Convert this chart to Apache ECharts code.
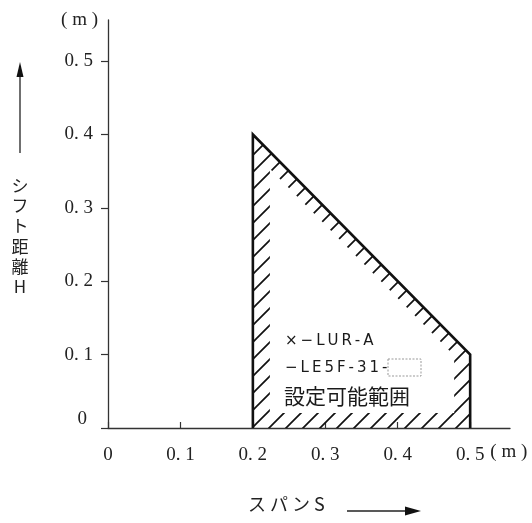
<!DOCTYPE html>
<html><head><meta charset="utf-8">
<script src="https://cdn.jsdelivr.net/npm/echarts@6/dist/echarts.min.js"></script>
<style>html,body{margin:0;padding:0;background:#fff}#c{width:532px;height:523px}</style>
</head><body><div id="c"></div>
<script>
// ---- data ----
const spanS = [0.2, 0.2, 0.5, 0.5];          // x of region vertices (m)
const shiftH = [0, 0.4, 0.1, 0];             // y of region vertices (m)
const xTicks = [0, 0.1, 0.2, 0.3, 0.4, 0.5];
const yTicks = [0, 0.1, 0.2, 0.3, 0.4, 0.5];
const xTickLabels = ['0', '0. 1', '0. 2', '0. 3', '0. 4', '0. 5'];
const yTickLabels = ['0', '0. 1', '0. 2', '0. 3', '0. 4', '0. 5'];
const unitLabel = '( m )';
const yTitle = 'シフト距離H';
const xTitle = 'スパンS';
const regionLines = ['×−LUR-A', '−LE5F-31-', '設定可能範囲'];

const SERIF = '"Liberation Serif", "DejaVu Serif", serif';
const JP = '"Noto Sans CJK JP", "Noto Sans", sans-serif';

function hatchPattern() {
  const s = 17;
  const c = document.createElement('canvas');
  c.width = s; c.height = s;
  const g = c.getContext('2d');
  g.strokeStyle = '#111';
  g.lineWidth = 1.7;
  g.lineCap = 'square';
  g.beginPath();
  g.moveTo(-3, s + 3); g.lineTo(s + 3, -3);
  g.moveTo(-3, 3); g.lineTo(3, -3);
  g.moveTo(s - 3, s + 3); g.lineTo(s + 3, s - 3);
  g.stroke();
  return c;
}
const pat = hatchPattern();

function lab(ticks, labels) {
  return function (v) {
    const i = ticks.findIndex(t => Math.abs(t - v) < 1e-9);
    return i < 0 ? '' : labels[i];
  };
}
const spaced = s => s.split('').join('\u2009');
const unitRich = { u: { fontFamily: SERIF, fontSize: 19, color: '#222' } };

const chart = echarts.init(document.getElementById('c'), null, { renderer: 'canvas' });
chart.setOption({
  animation: false,
  backgroundColor: '#fff',
  grid: { left: 108, right: 22, top: 20, bottom: 95, containLabel: false, outerBoundsMode: 'none' },
  xAxis: {
    type: 'value', min: 0, max: 0.555, interval: 0.1,
    axisLine: { show: true, onZero: false, lineStyle: { color: '#333', width: 1.3 } },
    axisTick: { show: true, inside: true, length: 6, customValues: xTicks, lineStyle: { color: '#333', width: 1.2 } },
    axisLabel: { show: true, customValues: xTicks, formatter: lab(xTicks, xTickLabels), margin: 18,
      color: '#222', fontFamily: SERIF, fontSize: 19 },
    splitLine: { show: false },
    name: '{u|' + unitLabel + '}', nameLocation: 'end', nameGap: -8,
    nameTextStyle: { color: '#222', fontFamily: SERIF, fontSize: 19, align: 'center', verticalAlign: 'top',
      padding: [15, 0, 0, 0], rich: unitRich }
  },
  yAxis: {
    type: 'value', min: 0, max: 0.556, interval: 0.1,
    axisLine: { show: true, onZero: false, lineStyle: { color: '#333', width: 1.3 } },
    axisTick: { show: true, inside: false, length: 7, customValues: yTicks, lineStyle: { color: '#333', width: 1.2 } },
    axisLabel: { show: true, customValues: yTicks, margin: 15, color: '#222', fontFamily: SERIF, fontSize: 19,
      formatter: function (v) {
        const t = lab(yTicks, yTickLabels)(v);
        return Math.abs(v) < 1e-9 ? '{z|' + t + '}' : t;
      },
      rich: { z: { fontFamily: SERIF, fontSize: 19, color: '#222', padding: [0, 6, 18, 0] } }
    },
    splitLine: { show: false },
    name: '{u|' + unitLabel + '}', nameLocation: 'end', nameGap: 0,
    nameTextStyle: { color: '#222', fontFamily: SERIF, fontSize: 19, align: 'right', verticalAlign: 'middle',
      padding: [0, 10, 0, 0], rich: unitRich }
  },
  series: [{
    type: 'custom',
    coordinateSystem: 'cartesian2d',
    silent: true,
    z: 2,
    data: spanS.map((s, i) => [s, shiftH[i]]),
    renderItem: function (params, api) {
      if (params.dataIndex !== 0) return null;
      const P = spanS.map((s, i) => api.coord([s, shiftH[i]]));
      const d = [17, 12, 16, 15];
      const n = P.length, L = [];
      for (let i = 0; i < n; i++) {
        const a = P[i], b = P[(i + 1) % n];
        const dx = b[0] - a[0], dy = b[1] - a[1];
        const len = Math.hypot(dx, dy);
        const nx = -dy / len, ny = dx / len;
        L.push({ p: [a[0] + nx * d[i], a[1] + ny * d[i]], v: [dx, dy] });
      }
      const inner = [];
      for (let i = 0; i < n; i++) {
        const A = L[(i - 1 + n) % n], B = L[i];
        const cr = A.v[0] * B.v[1] - A.v[1] * B.v[0];
        const wx = B.p[0] - A.p[0], wy = B.p[1] - A.p[1];
        const t = (wx * B.v[1] - wy * B.v[0]) / cr;
        inner.push([A.p[0] + A.v[0] * t, A.p[1] + A.v[1] * t]);
      }
      return {
        type: 'group',
        children: [
          { type: 'polygon', shape: { points: P }, style: { fill: { image: pat, repeat: 'repeat' }, stroke: null } },
          { type: 'polygon', shape: { points: inner }, style: { fill: '#fff', stroke: null } },
          { type: 'polyline', shape: { points: P }, style: { stroke: '#111', lineWidth: 2.6, fill: null, lineJoin: 'miter' } }
        ]
      };
    }
  }],
  graphic: [
    // y-axis title with upward arrow
    { type: 'line', z: 50, shape: { x1: 20, y1: 153, x2: 20, y2: 74 }, style: { stroke: '#222', lineWidth: 1.3 } },
    { type: 'polygon', z: 50, shape: { points: [[20, 62], [16.5, 77], [23.5, 77]] }, style: { fill: '#111' } },
    { type: 'text', z: 50, x: 20, y: 175, style: { text: yTitle.split('').join('\n'), fontFamily: JP, fontSize: 17,
        lineHeight: 20.3, align: 'center', verticalAlign: 'top', fill: '#222' } },
    // x-axis title with right arrow
    { type: 'text', z: 50, x: 248, y: 504, style: { text: xTitle.split('').join(' '), fontFamily: JP, fontSize: 18,
        align: 'left', verticalAlign: 'middle', fill: '#222' } },
    { type: 'line', z: 50, shape: { x1: 347, y1: 511, x2: 409, y2: 511 }, style: { stroke: '#222', lineWidth: 1.3 } },
    { type: 'polygon', z: 50, shape: { points: [[421, 511], [405, 506.5], [405, 515.5]] }, style: { fill: '#111' } },
    // region annotation
    { type: 'text', z: 50, x: 285, y: 341, style: { text: spaced(regionLines[0]), fontFamily: '"DejaVu Sans", sans-serif', fontSize: 15,
        align: 'left', verticalAlign: 'middle', fill: '#1a1a1a' } },
    { type: 'text', z: 50, x: 285, y: 368, style: { text: spaced(regionLines[1]), fontFamily: '"DejaVu Sans", sans-serif', fontSize: 15,
        align: 'left', verticalAlign: 'middle', fill: '#1a1a1a' } },
    { type: 'rect', z: 50, shape: { x: 388, y: 359, width: 33, height: 17 }, style: { fill: null, stroke: '#999', lineWidth: 1, lineDash: [2, 1.5] } },
    { type: 'text', z: 50, x: 284, y: 396, style: { text: regionLines[2], fontFamily: JP, fontSize: 21,
        align: 'left', verticalAlign: 'middle', fill: '#1a1a1a' } }
  ]
});
</script>
</body></html>
